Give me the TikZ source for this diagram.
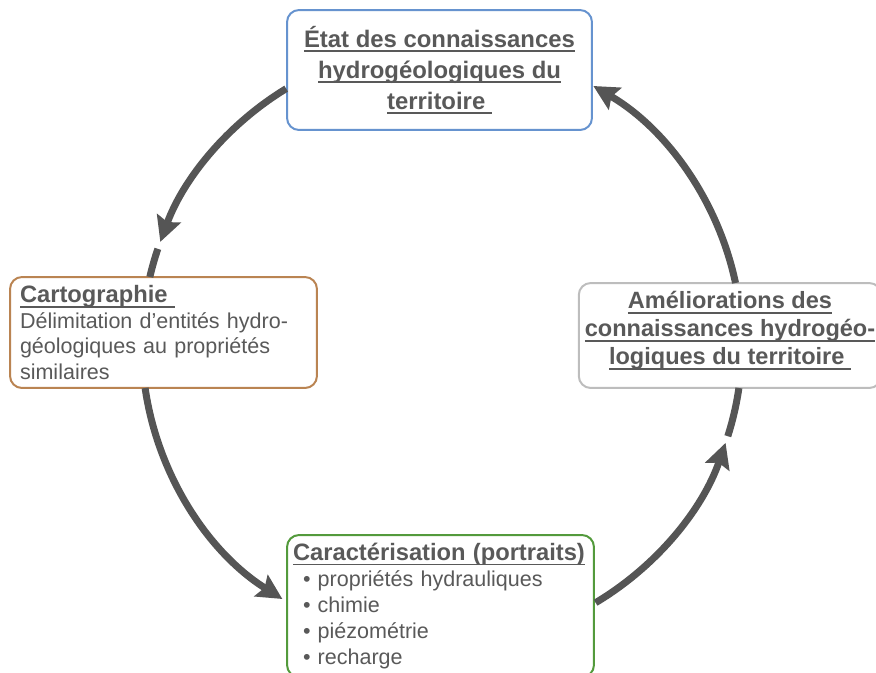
\documentclass[tikz,border=0pt]{standalone}
\usepackage{fontspec}
\setmainfont{Liberation Sans}
\usepackage{xcolor}
\usetikzlibrary{arrows.meta}
\definecolor{texte}{HTML}{595959}
\definecolor{fleche}{HTML}{555555}
\definecolor{bordbleu}{HTML}{6693CF}
\definecolor{bordbrun}{HTML}{BA8452}
\definecolor{bordgris}{HTML}{BDBDBD}
\definecolor{bordvert}{HTML}{539A3C}
\newsavebox\soulbox
\newcommand{\souligne}[1]{\sbox\soulbox{#1}\rlap{\rule[-0.1cm]{\wd\soulbox}{0.035cm}}\usebox\soulbox}
\tikzset{
    cyclebox/.style={draw, line width=0.04cm, rounded corners=0.24cm, fill=white, text=texte, inner sep=0.12cm},
    cycletitre/.style={cyclebox, align=center, font=\fontsize{13.6}{17.6}\selectfont\bfseries},
    cycletexte/.style={cyclebox, align=left, font=\fontsize{12.25}{14.6}\selectfont},
    cyclearc/.style={draw=fleche, line width=0.14cm},
    cyclefleche/.style={cyclearc, -{Stealth[length=0.5cm, width=0.5cm, inset=0.08cm]}}
}

\begin{document}
\begin{tikzpicture}[x=0.02cm, y=-0.02cm]
    \useasboundingbox (0,0) rectangle (876,673);
    \node[cycletitre, draw=bordbleu, minimum width=6.1cm, minimum height=2.4cm] (etat) at (439.5,70)
        {\souligne{État des connaissances}\\ \souligne{hydrogéologiques du}\\ \souligne{territoire\ }};
    \node[cycletexte, draw=bordbrun, text width=5.74cm, inner xsep=0.2cm, minimum height=2.22cm] (carto) at (163.5,332.5)
        {{\fontsize{13.5}{14.6}\selectfont\bfseries\souligne{Cartographie\ }}\\
         Délimitation d’entités hydro-\\ géologiques au propriétés\\ similaires};
    \node[cycletitre, draw=bordgris, font=\fontsize{13.4}{15.9}\selectfont\bfseries, minimum width=6.0cm, minimum height=2.1cm, text depth=0.3cm] (amelio) at (730,335.5)
        {\souligne{Améliorations des}\\ \souligne{connaissances hydrogéo-}\\ \souligne{logiques du territoire\ }};
    \node[cycletexte, draw=bordvert, font=\fontsize{12.25}{14.8}\selectfont, text width=5.9cm, minimum height=2.84cm] (carac) at (440.5,606)
        {{\fontsize{13.5}{14.8}\selectfont\bfseries\souligne{Caractérisation (portraits)}}\\
         \hspace*{0.2cm}\textbullet\ propriétés hydrauliques\\
         \hspace*{0.2cm}\textbullet\ chimie\\
         \hspace*{0.2cm}\textbullet\ piézométrie\\
         \hspace*{0.2cm}\textbullet\ recharge};

    % cycle
    \coordinate (centre) at (442,345);
    \draw[cyclefleche] ([shift={(-121.3:300)}]centre) arc[start angle=-121.3, end angle=-159.9, radius=300];
    \draw[cyclearc] ([shift={(-161.3:300)}]centre) arc[start angle=-161.3, end angle=-166.9, radius=300];
    \draw[cyclefleche] ([shift={(-188.24:300)}]centre) arc[start angle=-188.24, end angle=-237.85, radius=300];
    \draw[cyclefleche] ([shift={(59.2:300)}]centre) arc[start angle=59.2, end angle=19.04, radius=300];
    \draw[cyclearc] ([shift={(17.7:300)}]centre) arc[start angle=17.7, end angle=8.24, radius=300];
    \draw[cyclefleche] ([shift={(-11.93:300)}]centre) arc[start angle=-11.93, end angle=-59.7, radius=300];
\end{tikzpicture}
\end{document}
